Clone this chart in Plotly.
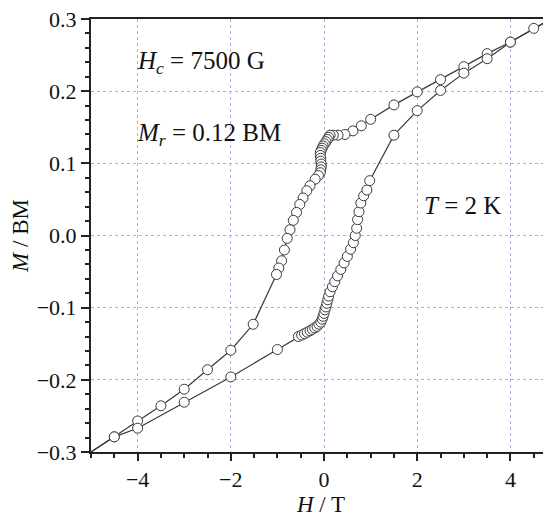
import plotly.graph_objects as go

# Descending branch (from +5 T to -5 T)
H_desc = [5.0, 4.5, 4.0, 3.5, 3.0, 2.5, 2.0, 1.5, 1.0, 0.8, 0.62, 0.45, 0.3, 0.2, 0.13,
          0.10, 0.07, 0.04, 0.01, -0.02, -0.04, -0.06, -0.08, -0.08, -0.07, -0.07, -0.06,
          -0.06, -0.07, -0.08, -0.12, -0.19, -0.30, -0.37, -0.45, -0.52, -0.59, -0.66,
          -0.73, -0.79, -0.85, -0.91, -0.97, -1.02, -1.52, -2.0, -2.5, -3.0, -3.5, -4.0,
          -4.5, -5.0]
M_desc = [0.305, 0.287, 0.268, 0.252, 0.234, 0.216, 0.199, 0.181, 0.161, 0.152, 0.145, 0.140,
          0.139, 0.139, 0.139, 0.136, 0.133, 0.130, 0.127, 0.124, 0.121, 0.118, 0.115,
          0.111, 0.107, 0.103, 0.099, 0.095, 0.091, 0.087, 0.083, 0.078, 0.069, 0.062,
          0.052, 0.043, 0.032, 0.021, 0.008, -0.004, -0.020, -0.035, -0.045, -0.054,
          -0.123, -0.159, -0.186, -0.213, -0.236, -0.257, -0.279, -0.300]

# Ascending branch (from -5 T to +5 T)
H_asc = [-5.0, -4.5, -4.0, -3.0, -2.0, -1.0, -0.55, -0.48, -0.42, -0.36, -0.30, -0.25,
         -0.20, -0.15, -0.11, -0.07, -0.04, -0.02, 0.0, 0.02, 0.04, 0.06, 0.08, 0.10,
         0.13, 0.18, 0.23, 0.29, 0.36, 0.43, 0.50, 0.57, 0.63, 0.67, 0.70, 0.72, 0.75,
         0.79, 0.85, 0.92, 0.98, 1.5, 2.0, 2.5, 3.0, 3.5, 4.0, 5.0]
M_asc = [-0.300, -0.279, -0.267, -0.231, -0.196, -0.158, -0.140, -0.138, -0.136, -0.134,
         -0.132, -0.130, -0.128, -0.126, -0.123, -0.120, -0.116, -0.112, -0.108, -0.103,
         -0.099, -0.094, -0.089, -0.084, -0.078, -0.071, -0.064, -0.056, -0.047, -0.038,
         -0.029, -0.019, -0.010, 0.0, 0.010, 0.022, 0.033, 0.045, 0.055, 0.063, 0.076,
         0.139, 0.173, 0.201, 0.225, 0.245, 0.268, 0.305]

x_ticks = [-4, -2, 0, 2, 4]
x_tick_labels = ["\u22124", "\u22122", "0", "2", "4"]
y_ticks = [-0.3, -0.2, -0.1, 0.0, 0.1, 0.2, 0.3]
y_tick_labels = ["\u22120.3", "\u22120.2", "\u22120.1", "0.0", "0.1", "0.2", "0.3"]

FONT = "Liberation Serif, Times New Roman, serif"
LINE_C = "#3a3a3a"
GRID_C = "#a9aee8"

fig = go.Figure()
for H, M in [(H_desc, M_desc), (H_asc, M_asc)]:
    fig.add_trace(go.Scatter(x=H, y=M, mode="lines",
                             line=dict(color=LINE_C, width=1.2),
                             hoverinfo="skip", showlegend=False))
for H, M in [(H_desc, M_desc), (H_asc, M_asc)]:
    fig.add_trace(go.Scatter(x=H[1:-1], y=M[1:-1], mode="markers",
                             marker=dict(symbol="circle", size=10, color="white",
                                         line=dict(color=LINE_C, width=1)),
                             showlegend=False))

fig.update_layout(
    width=543, height=509,
    margin=dict(l=83, r=0, t=11, b=65),
    paper_bgcolor="white", plot_bgcolor="white",
    font=dict(family=FONT, size=22, color="#111"),
    xaxis=dict(range=[-5, 4.87], tickmode="array", tickvals=x_ticks, ticktext=x_tick_labels,
               showline=True, linecolor="#222", linewidth=2, mirror=True,
               ticks="outside", ticklen=7, tickwidth=2, tickcolor="#222",
               minor=dict(dtick=0.5, ticklen=4, tickwidth=1.5, tickcolor="#222", showgrid=False),
               showgrid=True, gridcolor=GRID_C, griddash="dot", gridwidth=1,
               zeroline=False, ticklabeloverflow="allow",
               title=dict(text="<i>H</i> / T", standoff=2, font=dict(size=23))),
    yaxis=dict(range=[-0.3, 0.3], tickmode="array", tickvals=y_ticks, ticktext=y_tick_labels,
               showline=True, linecolor="#222", linewidth=2, mirror=False,
               ticks="outside", ticklen=8, tickwidth=2, tickcolor="#222",
               minor=dict(dtick=0.02, ticklen=4, tickwidth=1.5, tickcolor="#222", showgrid=False),
               showgrid=True, gridcolor=GRID_C, griddash="dot", gridwidth=1,
               zeroline=False, ticklabeloverflow="allow",
               title=dict(text="<i>M</i> / BM", standoff=6, font=dict(size=23))),
)

ann_font = dict(family=FONT, size=25, color="#111")
fig.add_annotation(x=-4.05, y=0.24, xref="x", yref="y", xanchor="left", yanchor="middle",
                   text="<i>H<sub>c</sub></i> = 7500 G", showarrow=False, font=ann_font)
fig.add_annotation(x=-4.05, y=0.14, xref="x", yref="y", xanchor="left", yanchor="middle",
                   text="<i>M<sub>r</sub></i> = 0.12 BM", showarrow=False, font=ann_font)
fig.add_annotation(x=2.1, y=0.042, xref="x", yref="y", xanchor="left", yanchor="middle",
                   text="<i>T</i> = 2 K", showarrow=False, font=ann_font)

fig.write_html("out.html")
